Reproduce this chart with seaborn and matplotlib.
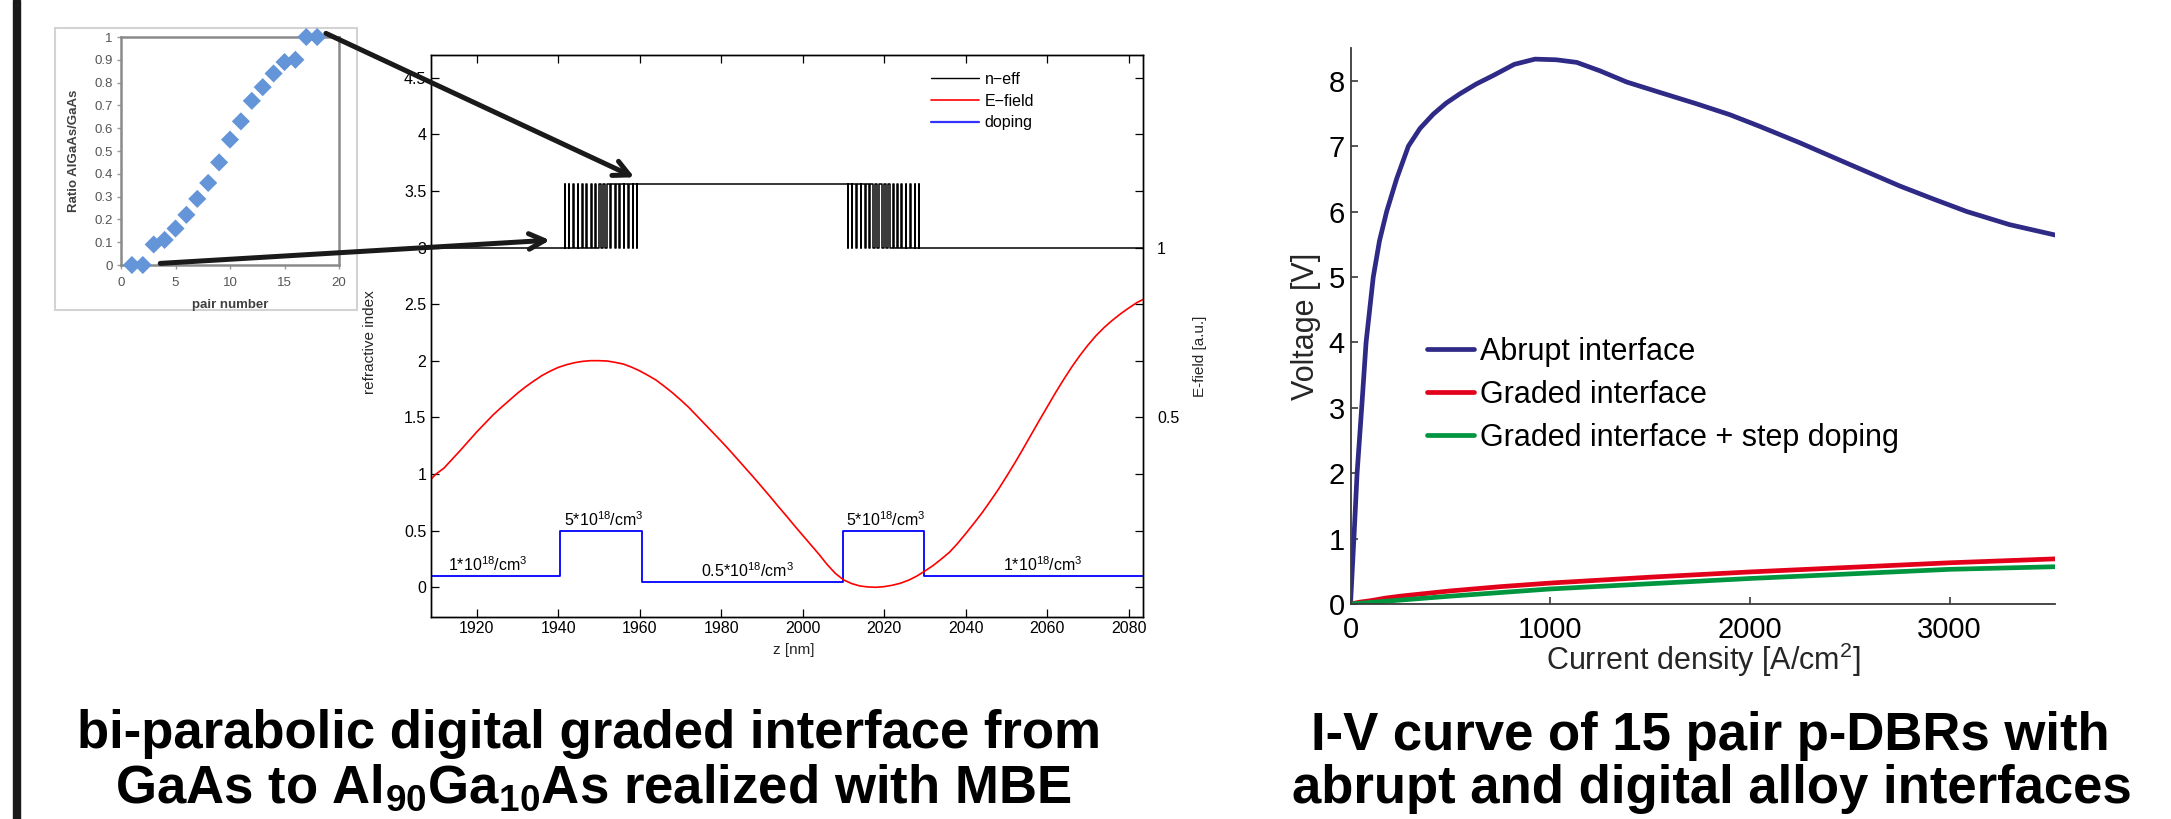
import matplotlib
matplotlib.use("Agg")
import numpy as np
import matplotlib.pyplot as plt
import seaborn as sns
from matplotlib.patches import Rectangle, ConnectionPatch
from matplotlib.lines import Line2D
from matplotlib.ticker import FuncFormatter

# ---------------------------------------------------------------- data
# inset: digital alloy design (ratio per pair)
pair_number = list(range(1, 19))
ratio_algaas_gaas = [0.0, 0.0, 0.09, 0.11, 0.16, 0.22, 0.29, 0.36, 0.45,
                     0.55, 0.63, 0.72, 0.78, 0.84, 0.89, 0.90, 1.0, 1.0]

# layer structure, z in nm
z_window = [1908.7, 2083.5]
grade_up = [1940.5, 1960.5]
grade_down = [2010.0, 2029.7]
n_algaas = 3.0
n_gaas = 3.56

# doping (units of 1e18 / cm^3), plotted on the refractive-index axis / 10
doping_edges = [1908.7, 1940.5, 1960.5, 2010.0, 2029.7, 2083.5]
doping_e18 = [1, 5, 0.5, 5, 1]
doping_label_z = [1922.8, 1951.1, 1986.4, 2020.4, 2058.8]

# E-field (a.u.)
efield_z = [1908.7, 1910, 1912, 1914, 1916, 1918, 1920, 1922, 1924, 1926, 1928,
            1930, 1932, 1934, 1936, 1938, 1940, 1942, 1944, 1946, 1948, 1950,
            1952, 1954, 1956, 1958, 1960, 1962, 1964, 1966, 1968, 1970, 1972,
            1974, 1976, 1978, 1980, 1982, 1984, 1986, 1988, 1990, 1992, 1994,
            1996, 1998, 2000, 2002, 2004, 2006, 2008, 2010, 2012, 2014, 2016,
            2018, 2020, 2022, 2024, 2026, 2028, 2030, 2032, 2034, 2036, 2038,
            2040, 2042, 2044, 2046, 2048, 2050, 2052, 2054, 2056, 2058, 2060,
            2062, 2064, 2066, 2068, 2070, 2072, 2074, 2076, 2078, 2080, 2082,
            2083.5]
efield_au = [0.317, 0.333, 0.351, 0.377, 0.403, 0.430, 0.457, 0.482, 0.507, 0.529, 0.550,
             0.571, 0.590, 0.607, 0.623, 0.636, 0.647, 0.655, 0.661, 0.665, 0.667, 0.667,
             0.666, 0.662, 0.657, 0.648, 0.637, 0.624, 0.610, 0.592, 0.573, 0.552, 0.530,
             0.505, 0.480, 0.455, 0.430, 0.404, 0.377, 0.350, 0.323, 0.295, 0.267, 0.238,
             0.210, 0.181, 0.153, 0.125, 0.097, 0.067, 0.041, 0.022, 0.011, 0.004, 0.001,
             0.000, 0.002, 0.006, 0.012, 0.021, 0.033, 0.048, 0.064, 0.083, 0.103, 0.129,
             0.158, 0.188, 0.219, 0.253, 0.288, 0.326, 0.365, 0.406, 0.448, 0.490, 0.531,
             0.572, 0.611, 0.648, 0.682, 0.713, 0.741, 0.765, 0.786, 0.805, 0.822, 0.838,
             0.847]

# I-V curves
j_abrupt = [0, 17, 33, 56, 78, 114, 145, 181, 231, 290, 348, 415, 480, 548, 630,
            715, 820, 924, 1030, 1133, 1250, 1383, 1550, 1730, 1900, 2051, 2251,
            2500, 2751, 2920, 3086, 3300, 3530]
v_abrupt = [0, 1.0, 2.0, 3.0, 4.0, 5.0, 5.55, 6.0, 6.5, 7.0, 7.27, 7.49, 7.66, 7.80, 7.95,
            8.08, 8.25, 8.33, 8.32, 8.28, 8.15, 7.98, 7.82, 7.65, 7.48, 7.30, 7.05,
            6.72, 6.39, 6.19, 6.00, 5.80, 5.64]
j_graded = [0, 50, 100, 175, 250, 375, 500, 750, 1000, 1500, 2000, 2500, 3000, 3530]
v_graded = [0, 0.03, 0.05, 0.09, 0.12, 0.16, 0.20, 0.265, 0.32, 0.41, 0.49, 0.56, 0.63, 0.69]
j_step = [0, 250, 500, 1000, 1500, 2000, 2500, 3000, 3530]
v_step = [0, 0.06, 0.12, 0.23, 0.31, 0.39, 0.46, 0.53, 0.57]

iv_labels = ["Abrupt interface", "Graded interface", "Graded interface + step doping"]
mid_legend = ["n\u2212eff", "E\u2212field", "doping"]

# ---------------------------------------------------------------- style
sns.set_theme(style="white")
plt.rcParams["font.family"] = ["Liberation Sans", "DejaVu Sans"]
plt.rcParams["mathtext.fontset"] = "custom"
plt.rcParams["mathtext.rm"] = "Liberation Sans"
plt.rcParams["mathtext.it"] = "Liberation Sans:italic"
plt.rcParams["mathtext.bf"] = "Liberation Sans:bold"
plt.rcParams["text.color"] = "black"

W, H, DPI = 2171, 819, 100
fig = plt.figure(figsize=(W / DPI, H / DPI), dpi=DPI)
fig.patch.set_facecolor("white")


def box(l, t, r, b):
    return [l / W, 1 - b / H, (r - l) / W, (b - t) / H]


# left black bar
fig.add_artist(Rectangle((13 / W, 0), 7 / W, 1, transform=fig.transFigure,
                         color="#1a1a1a", zorder=-1))

# ---------------------------------------------------------------- inset
fig.add_artist(Rectangle((55 / W, 1 - 310 / H), 302 / W, 282 / H,
                         transform=fig.transFigure, fc="white", ec="#d3d3d3",
                         lw=1.5, zorder=-1))
ax_in = fig.add_axes(box(121, 37, 339, 265))
sns.scatterplot(x=pair_number, y=ratio_algaas_gaas, ax=ax_in, marker="D", s=85,
                color="#6495d8", edgecolor="none", zorder=3, clip_on=False)
ax_in.set_xlim(0, 20)
ax_in.set_ylim(0, 1)
ax_in.set_xticks([0, 5, 10, 15, 20])
ax_in.set_yticks(np.round(np.arange(0, 1.01, 0.1), 1))
ax_in.yaxis.set_major_formatter(FuncFormatter(lambda v, p: f"{v:g}"))
for sp in ax_in.spines.values():
    sp.set_color("#8a8a8a")
    sp.set_linewidth(1.8)
ax_in.tick_params(axis="both", colors="#9a9a9a", labelcolor="#555555",
                  labelsize=9.5, length=3, width=1, direction="out",
                  left=True, bottom=True, pad=3)
ax_in.tick_params(axis="x", pad=6)
ax_in.set_xlabel("pair number", fontsize=9.5, fontweight="bold", color="#404040")
ax_in.set_ylabel("Ratio AlGaAs/GaAs", fontsize=9.5, fontweight="bold", color="#404040")
ax_in.xaxis.set_label_coords(0.5, -0.15)
ax_in.yaxis.set_label_coords(-0.19, 0.5)

# ---------------------------------------------------------------- middle
ylim_mid = (-0.265, 4.70)
ax = fig.add_axes(box(430.6, 55, 1143, 617.3))

# n-eff step profile built from the digital alloy ratio
segments = [(z_window[0], grade_up[0], n_algaas)]
p_up = (grade_up[1] - grade_up[0]) / len(ratio_algaas_gaas)
z = grade_up[0]
for f in ratio_algaas_gaas:
    segments.append((z, z + (1 - f) * p_up, n_algaas))
    segments.append((z + (1 - f) * p_up, z + p_up, n_gaas))
    z += p_up
segments.append((grade_up[1], grade_down[0], n_gaas))
p_dn = (grade_down[1] - grade_down[0]) / len(ratio_algaas_gaas)
z = grade_down[0]
for f in ratio_algaas_gaas[::-1]:
    segments.append((z, z + f * p_dn, n_gaas))
    segments.append((z + f * p_dn, z + p_dn, n_algaas))
    z += p_dn
segments.append((grade_down[1], z_window[1], n_algaas))
neff_z, neff_n = [], []
for a, b, lvl in segments:
    neff_z += [a, b]
    neff_n += [lvl, lvl]
sns.lineplot(x=neff_z, y=neff_n, ax=ax, sort=False, estimator=None,
             color="black", lw=1.1)

# doping steps
dop_level = [d / 10 for d in doping_e18]
dop_z = list(np.repeat(doping_edges, 2)[1:-1])
dop_v = list(np.repeat(dop_level, 2))
sns.lineplot(x=dop_z, y=dop_v, ax=ax, sort=False, estimator=None,
             color="#0000ff", lw=1.3)
for zc, d in zip(doping_label_z, doping_e18):
    ax.annotate(f"{d:g}*10$^{{\\mathregular{{18}}}}$/cm$^{{\\mathregular{{3}}}}$",
                xy=(zc, d / 10), xytext=(0, 1.5), textcoords="offset points",
                ha="center", va="bottom", fontsize=11.5)

ax.set_xlim(*z_window)
ax.set_ylim(*ylim_mid)
ax.set_xticks(np.arange(1920, 2081, 20))
ax.set_yticks(np.arange(0, 4.51, 0.5))
ax.yaxis.set_major_formatter(FuncFormatter(lambda v, p: f"{v:g}"))
for sp in ax.spines.values():
    sp.set_color("black")
    sp.set_linewidth(1.0)
ax.tick_params(axis="both", direction="in", length=5.5, width=0.9, colors="black",
               labelsize=11.5, top=True, bottom=True, left=True, right=False)
ax.tick_params(axis="y", pad=3)
ax.tick_params(axis="x", pad=3)
ax.set_xlabel("z [nm]", fontsize=11)
ax.set_ylabel("refractive index", fontsize=11)
ax.xaxis.set_label_coords(0.51, -0.045)
ax.yaxis.set_label_coords(-0.075, 0.49)

# E-field on the right axis
ax2 = ax.twinx()
sns.lineplot(x=efield_z, y=efield_au, ax=ax2, color="red", lw=1.2)
ax2.set_ylim(ylim_mid[0] / 3, ylim_mid[1] / 3)
ax2.set_yticks(np.arange(0, 4.51, 0.5) / 3)
ax2.yaxis.set_major_formatter(FuncFormatter(
    lambda v, p: f"{v:.1g}" if min(abs(v - 0.5), abs(v - 1)) < 1e-6 else ""))
ax2.tick_params(axis="y", direction="in", length=5.5, width=0.9, colors="black",
                labelsize=11.5, right=True, left=False, pad=10)
for sp in ax2.spines.values():
    sp.set_color("black")
    sp.set_linewidth(1.0)
ax2.set_ylabel("E-field [a.u.]", fontsize=11)
ax2.yaxis.set_label_coords(1.07, 0.465)
ax2.grid(False)
ax.grid(False)

handles = [Line2D([], [], color="black", lw=1.0),
           Line2D([], [], color="red", lw=1.2),
           Line2D([], [], color="#3333ff", lw=1.6)]
ax2.legend(handles, mid_legend, loc="upper left", bbox_to_anchor=(0.703, 0.97),
           frameon=False, fontsize=11.5, handlelength=3.0, handletextpad=0.33,
           labelspacing=0.42, borderpad=0, borderaxespad=0)

# ---------------------------------------------------------------- arrows
for (xa, ya), (xb, yb) in [((18.8, 1.016), (1958.7, 3.62)),
                           ((3.6, 0.007), (1938.0, 3.065))]:
    con = ConnectionPatch(xyA=(xa, ya), coordsA=ax_in.transData,
                          xyB=(xb, yb), coordsB=ax.transData,
                          arrowstyle="->", lw=3.6, color="#1a1a1a",
                          mutation_scale=28, shrinkA=0, shrinkB=0, zorder=5)
    fig.add_artist(con)

# ---------------------------------------------------------------- IV chart
ax3 = fig.add_axes(box(1350.5, 48, 2055.4, 604))
iv_colors = ["#2e2a86", "#e2001a", "#009640"]
for jj, vv, lab, col in zip([j_abrupt, j_graded, j_step],
                            [v_abrupt, v_graded, v_step], iv_labels, iv_colors):
    sns.lineplot(x=jj, y=vv, ax=ax3, color=col, lw=3.4, label=lab)
ax3.set_xlim(0, 3530)
ax3.set_ylim(0, 8.5)
ax3.set_xticks([0, 1000, 2000, 3000])
ax3.set_yticks(range(0, 9))
for s in ["top", "right"]:
    ax3.spines[s].set_visible(False)
for s in ["left", "bottom"]:
    ax3.spines[s].set_color("#3a3a3a")
    ax3.spines[s].set_linewidth(1.3)
ax3.tick_params(axis="both", direction="in", length=5, width=1.2, colors="#3a3a3a",
                labelcolor="black", labelsize=21, left=True, bottom=True)
ax3.tick_params(axis="y", pad=4)
ax3.tick_params(axis="x", pad=9)
ax3.set_xlabel("Current density [A/cm$^{\\mathregular{2}}$]", fontsize=22)
ax3.set_ylabel("Voltage [V]", fontsize=22)
ax3.xaxis.set_label_coords(0.5, -0.066)
ax3.yaxis.set_label_coords(-0.042, 0.5)
ax3.grid(False)
ax3.legend(loc="upper left", bbox_to_anchor=(0.108, 0.48), frameon=False,
           fontsize=22, handlelength=1.55, handletextpad=0.2, labelspacing=0.42,
           borderpad=0, borderaxespad=0)

# ---------------------------------------------------------------- titles
tkw = dict(ha="center", va="center", fontsize=38, fontweight="bold", color="black")
fig.text(589 / W, 1 - 734 / H, "bi-parabolic digital graded interface from", **tkw)
fig.text(593 / W, 1 - 788 / H,
         "GaAs to Al$_{\\mathbf{90}}$Ga$_{\\mathbf{10}}$As realized with MBE", **tkw)
fig.text(1710 / W, 1 - 736 / H, "I-V curve of 15 pair p-DBRs with", **tkw)
fig.text(1712 / W, 1 - 789 / H, "abrupt and digital alloy interfaces", **tkw)

fig.savefig("out.png", dpi=DPI, facecolor="white")
